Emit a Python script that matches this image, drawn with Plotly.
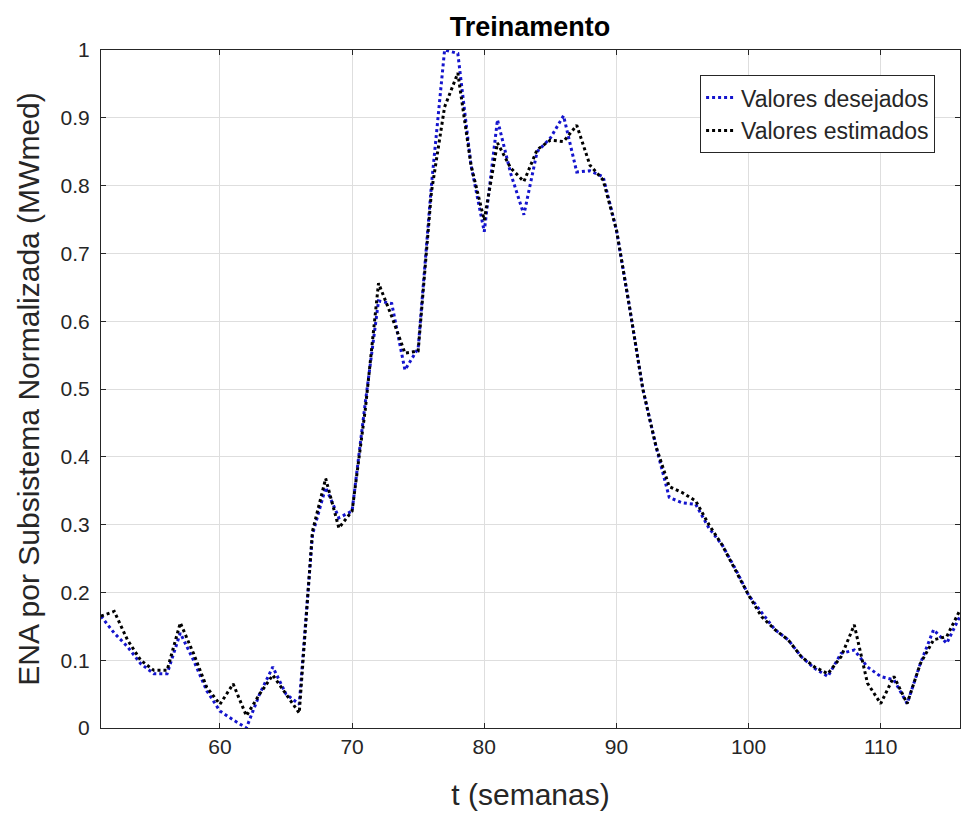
import plotly.graph_objects as go

semanas = list(range(51, 117))

valores_desejados = [
    0.165, 0.14, 0.12, 0.095, 0.08, 0.08, 0.14, 0.10, 0.055, 0.025,
    0.012, 0.0, 0.05, 0.09, 0.05, 0.035, 0.285, 0.355, 0.31, 0.32,
    0.48, 0.63, 0.626, 0.528, 0.56, 0.80, 1.0, 0.995, 0.83, 0.732,
    0.897, 0.818, 0.757, 0.85, 0.87, 0.903, 0.82, 0.822, 0.813, 0.735,
    0.62, 0.50, 0.415, 0.34, 0.332, 0.33, 0.295, 0.27, 0.235, 0.196,
    0.17, 0.145, 0.13, 0.105, 0.088, 0.076, 0.11, 0.115, 0.09, 0.076,
    0.071, 0.036, 0.095, 0.145, 0.125, 0.165,
]

valores_estimados = [
    0.165, 0.172, 0.13, 0.10, 0.085, 0.085, 0.155, 0.11, 0.06, 0.035,
    0.065, 0.018, 0.05, 0.078, 0.05, 0.022, 0.29, 0.368, 0.295, 0.32,
    0.47, 0.656, 0.607, 0.553, 0.556, 0.79, 0.916, 0.966, 0.83, 0.749,
    0.863, 0.826, 0.806, 0.853, 0.867, 0.865, 0.889, 0.83, 0.808, 0.735,
    0.62, 0.50, 0.415, 0.356, 0.347, 0.335, 0.30, 0.27, 0.233, 0.196,
    0.164, 0.145, 0.13, 0.105, 0.09, 0.08, 0.105, 0.152, 0.066, 0.036,
    0.076, 0.036, 0.095, 0.13, 0.135, 0.174,
]

x_ticks = [60, 70, 80, 90, 100, 110]
y_ticks = [0, 0.1, 0.2, 0.3, 0.4, 0.5, 0.6, 0.7, 0.8, 0.9, 1]
y_tick_labels = ["0", "0.1", "0.2", "0.3", "0.4", "0.5", "0.6", "0.7", "0.8", "0.9", "1"]

FONT = "Liberation Sans, Arial, Helvetica, sans-serif"
TXT = "#262626"

fig = go.Figure()
fig.add_trace(go.Scatter(
    x=semanas, y=valores_desejados, mode="lines", name="Valores desejados",
    line=dict(color="rgb(20,20,205)", width=3, dash="dot"),
))
fig.add_trace(go.Scatter(
    x=semanas, y=valores_estimados, mode="lines", name="Valores estimados",
    line=dict(color="black", width=3, dash="dot"),
))

axis_common = dict(
    showline=True, linecolor=TXT, linewidth=1, mirror="ticks",
    ticks="inside", ticklen=5, tickcolor=TXT,
    showgrid=True, gridcolor="#dedede", gridwidth=1,
    zeroline=False,
    tickfont=dict(family=FONT, size=21, color=TXT),
)

fig.update_layout(
    width=962, height=817,
    margin=dict(l=101, r=2, t=50, b=89),
    paper_bgcolor="white", plot_bgcolor="white",
    title=dict(text="<b>Treinamento</b>", x=0.551, xanchor="center", y=0.967, yanchor="middle",
               font=dict(family=FONT, size=27, color="black")),
    xaxis=dict(range=[51, 116], tickvals=x_ticks,
               title=dict(text="t (semanas)", font=dict(family=FONT, size=30, color=TXT), standoff=26),
               **axis_common),
    yaxis=dict(range=[0, 1], tickvals=y_ticks, ticktext=y_tick_labels,
               ticklabelstandoff=6,
               title=dict(text="ENA por Subsistema Normalizada (MWmed)", font=dict(family=FONT, size=30, color=TXT), standoff=12),
               **axis_common),
    legend=dict(x=0.971, xanchor="right", y=0.963, yanchor="top",
                bgcolor="white", bordercolor=TXT, borderwidth=1,
                font=dict(family=FONT, size=23, color=TXT),
                tracegroupgap=0),
    showlegend=True,
)

fig.write_html("out.html")
